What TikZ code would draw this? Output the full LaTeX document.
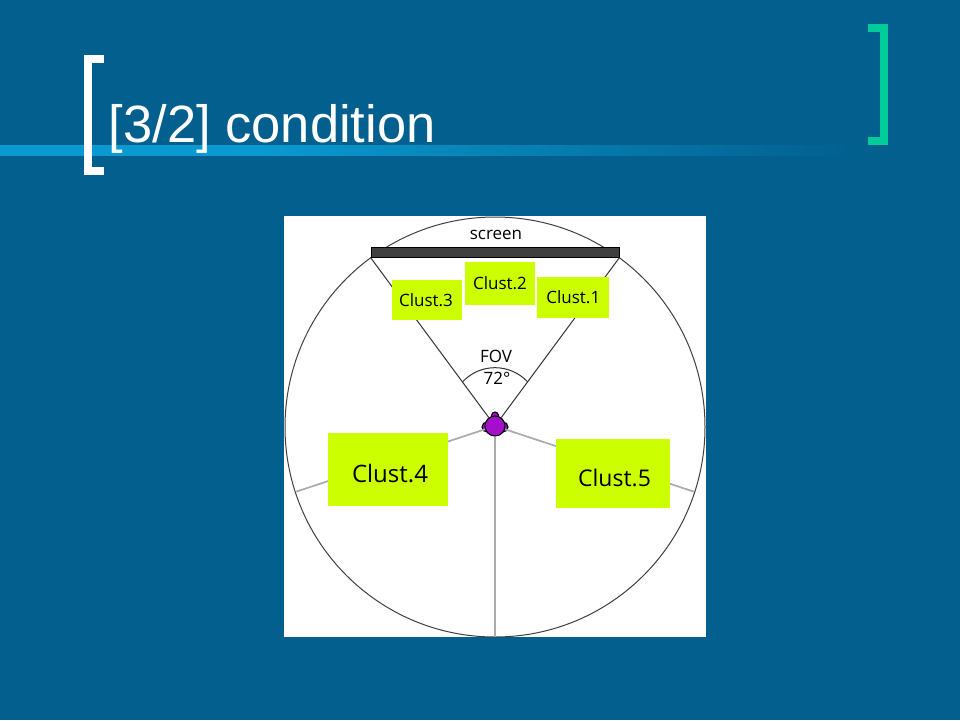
\documentclass[tikz,border=0pt]{standalone}
\usepackage{fontspec}
\setmainfont{Liberation Sans}
\newfontfamily\labelfont{Open Sans}
\usetikzlibrary{positioning}
\definecolor{slidebg}{HTML}{025F8E}
\definecolor{bandblue}{HTML}{0A9AD0}
\definecolor{bracketgreen}{HTML}{00CC99}
\definecolor{clustgreen}{HTML}{CCFF00}
\definecolor{headpurple}{HTML}{A50FCB}
\definecolor{screengray}{HTML}{3F3F3F}
\definecolor{wiregray}{HTML}{ABABAB}
\pgfdeclarehorizontalshading{bandfade}{100bp}{color(0bp)=(bandblue); color(40bp)=(bandblue); color(75bp)=(slidebg); color(100bp)=(slidebg)}
\tikzset{
	clust/.style={fill=clustgreen, inner sep=0pt, text=black},
	smalltext/.style={font=\labelfont\fontsize{17}{20}\selectfont, inner sep=0pt},
	bigtext/.style={font=\labelfont\fontsize{24}{28}\selectfont},
	bracket/.style={line width=8pt, miter limit=10},
	fovline/.style={draw=black!80, line width=1pt},
	grayline/.style={draw=wiregray, line width=1.7pt},
	headpart/.style={draw=black, fill=headpurple, circle, inner sep=0pt, line width=1.1pt}
}
\begin{document}
\begin{tikzpicture}[x=1pt, y=-1pt]
	\useasboundingbox (0,0) rectangle (960,720);
	\fill[slidebg] (0,0) rectangle (960,720);

	% Draw the band under the title
	\shade[shading=bandfade] (0,145) rectangle (860,155);

	% Draw the brackets
	\draw[bracket, white] (104,59) -- (88,59) -- (88,171) -- (104,171);
	\draw[bracket, bracketgreen] (868,28) -- (884,28) -- (884,141) -- (868,141);

	\node[anchor=base west, inner sep=0pt, text=white, font=\fontsize{52.5}{60}\selectfont] (title) at (108.5,142) {[3/2] condition};

	% Draw the white panel and the circle
	\fill[white] (284,216) rectangle (706,637);
	\node[draw=black!75, circle, line width=1pt, minimum size=420pt, inner sep=0pt] (room) at (495,427) {};

	\node[draw=black, fill=screengray, line width=1pt, minimum width=248pt, minimum height=10pt, inner sep=0pt] (screen) at (495,252) {};
	\node[smalltext] (screenlabel) at (496,235) {screen};

	% Draw the head
	\node[headpart, minimum size=10pt] (earl) at (487,427) {};
	\node[headpart, minimum size=10pt] (earr) at (503,427) {};
	\node[headpart, minimum size=7pt] (nose) at (495,415.5) {};
	\node[headpart, minimum size=20pt] (head) at (495,426) {};

	% Draw the lines leaving the head
	\coordinate (rimd) at (495,637);
	\coordinate (riml) at (296.3,491.6);
	\coordinate (rimr) at (693.7,491.6);
	\draw[grayline] (head) -- (rimd);
	\draw[grayline] (head) -- (riml);
	\draw[grayline] (head) -- (rimr);
	\draw[fovline] (head) -- (screen.south west);
	\draw[fovline] (head) -- (screen.south east);

	% Draw the arc of the field of view
	\draw[fovline] (462.7,381.7) .. controls (480.3,363) and (509.7,363) .. (527.5,381.7);
	\node[smalltext] (fov) at (496,356) {FOV};
	\node[smalltext] (angle) at (497,378) {72°};

	% Draw the clusters
	\node[clust, smalltext, minimum width=70pt, minimum height=40pt] (clust3) at (427,300) {\hspace*{-2pt}Clust.3};
	\node[clust, smalltext, minimum width=70pt, minimum height=43pt] (clust2) at (500,283.5) {Clust.2};
	\node[clust, smalltext, minimum width=72pt, minimum height=41pt] (clust1) at (573.3,297) {Clust.1};
	\node[clust, bigtext, minimum width=120pt, minimum height=73pt] (clust4) at (388,469.5) {\hspace*{4pt}\raisebox{-4pt}[\height][0pt]{Clust.4}};
	\node[clust, bigtext, font=\labelfont\fontsize{23}{28}\selectfont, minimum width=114pt, minimum height=69pt] (clust5) at (613,473.7) {\hspace*{3pt}\raisebox{-4pt}[\height][0pt]{Clust.5}};
\end{tikzpicture}
\end{document}
